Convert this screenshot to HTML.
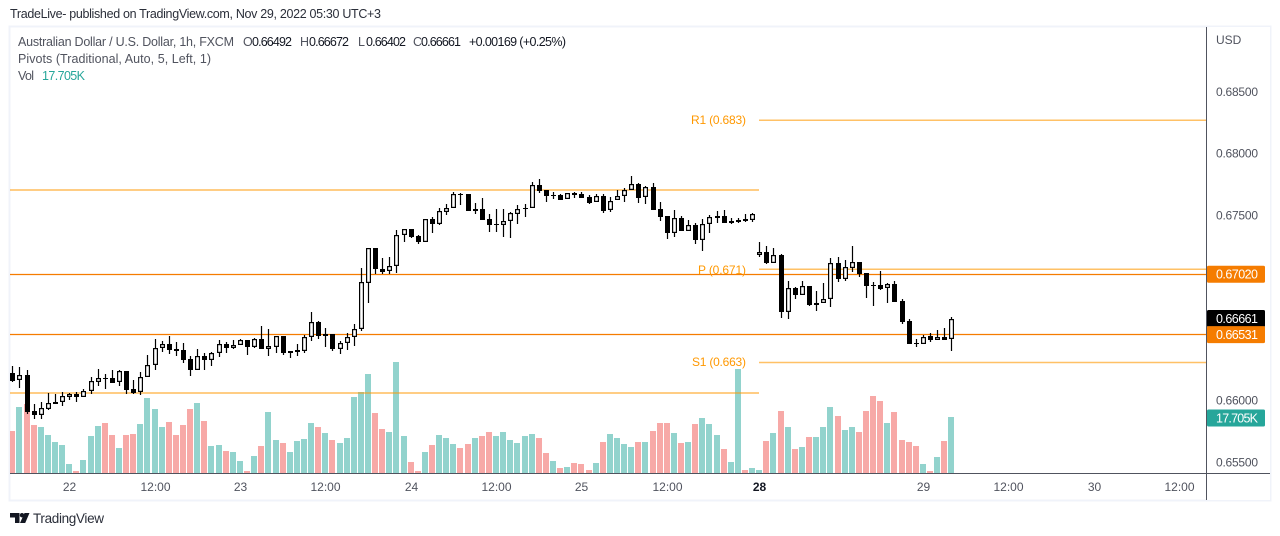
<!DOCTYPE html>
<html lang="en">
<head>
<meta charset="utf-8">
<title>AUD/USD chart</title>
<style>
html,body{margin:0;padding:0;background:#fff;width:1280px;height:536px;overflow:hidden}
svg{display:block;font-family:"Liberation Sans",sans-serif}
</style>
</head>
<body>
<svg id="chart" xmlns="http://www.w3.org/2000/svg" width="1280" height="536" viewBox="0 0 1280 536">
  <defs><clipPath id="plot-clip"><rect x="10" y="27" width="1196" height="446"></rect></clipPath></defs>
  <text x="10" y="18" font-size="12.5" fill="#2a2e39" textLength="371" lengthAdjust="spacing">TradeLive- published on TradingView.com, Nov 29, 2022 05:30 UTC+3</text>
  <rect x="9.5" y="26.5" width="1261" height="474" fill="#fff" stroke="#f0f3fa" stroke-width="2"></rect>
  <g id="volume-layer" clip-path="url(#plot-clip)"></g>
  <g id="pivot-layer"></g>
  <g id="candle-layer" clip-path="url(#plot-clip)"></g>
  <text x="746" y="124" font-size="12" fill="#ff9800" text-anchor="end" textLength="55" lengthAdjust="spacing">R1 (0.683)</text>
  <text x="746" y="274" font-size="12" fill="#ff9800" text-anchor="end" textLength="48" lengthAdjust="spacing">P (0.671)</text>
  <text x="746" y="366" font-size="12" fill="#ff9800" text-anchor="end" textLength="54" lengthAdjust="spacing">S1 (0.663)</text>
  <g font-size="12.5">
    <text x="18" y="46" fill="#50535e" textLength="216" lengthAdjust="spacing">Australian Dollar / U.S. Dollar, 1h, FXCM</text>
    <text x="243" y="46" fill="#50535e">O</text>
    <text x="252" y="46" fill="#131722" textLength="40" lengthAdjust="spacing">0.66492</text>
    <text x="300" y="46" fill="#50535e">H</text>
    <text x="309" y="46" fill="#131722" textLength="40" lengthAdjust="spacing">0.66672</text>
    <text x="358" y="46" fill="#50535e">L</text>
    <text x="366" y="46" fill="#131722" textLength="40" lengthAdjust="spacing">0.66402</text>
    <text x="413" y="46" fill="#50535e">C</text>
    <text x="421" y="46" fill="#131722" textLength="40" lengthAdjust="spacing">0.66661</text>
    <text x="469" y="46" fill="#131722" textLength="97" lengthAdjust="spacing">+0.00169 (+0.25%)</text>
    <text x="18" y="63" fill="#50535e" textLength="193" lengthAdjust="spacing">Pivots (Traditional, Auto, 5, Left, 1)</text>
    <text x="18" y="80" fill="#50535e" textLength="16" lengthAdjust="spacing">Vol</text>
    <text x="42" y="80" fill="#26a69a" textLength="43" lengthAdjust="spacing">17.705K</text>
  </g>
  <rect x="1207" y="27" width="63" height="473" fill="#fff"></rect>
  <line x1="1206.5" y1="27" x2="1206.5" y2="500" stroke="#50535e"></line>
  <line x1="10" y1="473.5" x2="1270" y2="473.5" stroke="#50535e"></line>
  <text x="1216" y="44" font-size="12" fill="#50535e">USD</text>
  <g id="price-ticks"></g>
  <g id="time-ticks"></g>
  <g id="tag-layer"></g>
  <g>
    <g fill="#131722">
      <polygon points="10,513 19.5,513 19.5,523 15,523 15,517.5 10,517.5"></polygon>
      <circle cx="22" cy="515.2" r="2.2"></circle>
      <polygon points="24.5,513 29.5,513 25.2,523 20,523"></polygon>
    </g>
    <text x="33" y="523" font-size="13.5" fill="#2a2e39" textLength="71" lengthAdjust="spacing">TradingView</text>
  </g>
</svg>
<script>
const opens = [0.66220,0.66161,0.66203,0.65912,0.65882,0.65930,0.65971,0.65982,0.66028,0.66047,0.66028,0.66072,0.66149,0.66179,0.66179,0.66144,0.66236,0.66090,0.66063,0.66185,
0.66282,0.66420,0.66455,0.66414,0.66404,0.66333,0.66246,0.66357,0.66327,0.66379,0.66452,0.66425,0.66449,0.66485,0.66433,0.66493,0.66417,0.66433,0.66517,0.66384,
0.66390,0.66400,0.66509,0.66630,0.66522,0.66536,0.66417,0.66460,0.66509,0.66574,0.66951,0.67230,0.67062,0.67043,0.67084,0.67335,0.67384,0.67329,0.67283,0.67465,
0.67429,0.67526,0.67554,0.67670,0.67670,0.67534,0.67546,0.67465,0.67418,0.67421,0.67449,0.67510,0.67546,0.67554,0.67740,0.67700,0.67659,0.67659,0.67627,0.67678,
0.67670,0.67643,0.67602,0.67651,0.67538,0.67619,0.67651,0.67700,0.67751,0.67643,0.67726,0.67546,0.67489,0.67356,0.67473,0.67372,0.67416,0.67299,0.67424,0.67478,
0.67491,0.67437,0.67445,0.67467,0.67457,0.67178,0.67197,0.67113,0.67175,0.66716,0.66906,0.66854,0.66924,0.66773,0.66789,0.66817,0.67108,0.66983,0.67073,0.67116,
0.67027,0.66930,0.66930,0.66906,0.66938,0.66800,0.66638,0.66460,0.66452,0.66517,0.66489,0.66509,0.66492];
const closes = [0.66155,0.66201,0.65906,0.65880,0.65934,0.65974,0.65985,0.66031,0.66047,0.66028,0.66072,0.66152,0.66177,0.66174,0.66141,0.66233,0.66082,0.66058,0.66185,0.66282,
0.66420,0.66452,0.66408,0.66400,0.66325,0.66246,0.66355,0.66325,0.66379,0.66452,0.66425,0.66449,0.66485,0.66433,0.66493,0.66417,0.66436,0.66517,0.66384,0.66398,
0.66404,0.66509,0.66630,0.66519,0.66536,0.66414,0.66460,0.66509,0.66574,0.66954,0.67230,0.67060,0.67040,0.67084,0.67335,0.67384,0.67324,0.67283,0.67465,0.67429,
0.67530,0.67554,0.67667,0.67667,0.67534,0.67546,0.67461,0.67421,0.67424,0.67449,0.67513,0.67546,0.67554,0.67740,0.67696,0.67656,0.67661,0.67623,0.67675,0.67664,
0.67640,0.67599,0.67651,0.67534,0.67615,0.67651,0.67700,0.67748,0.67640,0.67724,0.67542,0.67486,0.67356,0.67473,0.67372,0.67416,0.67299,0.67424,0.67481,0.67491,
0.67437,0.67449,0.67461,0.67453,0.67505,0.67197,0.67113,0.67173,0.66716,0.66906,0.66854,0.66922,0.66771,0.66789,0.66817,0.67108,0.66983,0.67076,0.67116,0.67024,
0.66927,0.66927,0.66903,0.66938,0.66797,0.66635,0.66457,0.66452,0.66514,0.66487,0.66509,0.66489,0.66661];
const highs = [0.66276,0.66268,0.66244,0.65969,0.65985,0.66058,0.66050,0.66063,0.66058,0.66063,0.66088,0.66187,0.66252,0.66212,0.66244,0.66244,0.66236,0.66163,0.66228,0.66363,
0.66495,0.66476,0.66517,0.66471,0.66463,0.66357,0.66412,0.66384,0.66390,0.66485,0.66473,0.66485,0.66495,0.66485,0.66506,0.66598,0.66576,0.66519,0.66517,0.66400,
0.66455,0.66525,0.66714,0.66638,0.66584,0.66536,0.66476,0.66544,0.66617,0.67068,0.67232,0.67230,0.67149,0.67157,0.67378,0.67386,0.67384,0.67337,0.67469,0.67483,
0.67559,0.67589,0.67683,0.67675,0.67670,0.67594,0.67635,0.67508,0.67546,0.67548,0.67526,0.67580,0.67586,0.67764,0.67791,0.67702,0.67688,0.67670,0.67675,0.67686,
0.67683,0.67661,0.67667,0.67667,0.67643,0.67702,0.67716,0.67815,0.67756,0.67734,0.67756,0.67605,0.67489,0.67540,0.67491,0.67459,0.67432,0.67467,0.67499,0.67532,
0.67538,0.67478,0.67475,0.67508,0.67513,0.67281,0.67248,0.67232,0.67184,0.66965,0.66914,0.66963,0.66924,0.66884,0.66946,0.67151,0.67159,0.67135,0.67248,0.67121,
0.67027,0.66954,0.67043,0.66951,0.66963,0.66817,0.66655,0.66493,0.66525,0.66541,0.66566,0.66582,0.66672];
const lows = [0.66147,0.66098,0.65888,0.65847,0.65847,0.65922,0.65971,0.65952,0.66001,0.65985,0.66028,0.66050,0.66114,0.66090,0.66141,0.66114,0.66050,0.66050,0.66041,0.66185,
0.66244,0.66387,0.66374,0.66357,0.66303,0.66195,0.66246,0.66246,0.66279,0.66352,0.66384,0.66417,0.66449,0.66366,0.66425,0.66417,0.66360,0.66384,0.66368,0.66344,
0.66360,0.66384,0.66476,0.66497,0.66433,0.66400,0.66376,0.66406,0.66438,0.66558,0.66789,0.67022,0.67022,0.67022,0.67032,0.67283,0.67313,0.67265,0.67283,0.67356,
0.67418,0.67499,0.67554,0.67580,0.67534,0.67510,0.67461,0.67362,0.67364,0.67324,0.67316,0.67429,0.67486,0.67554,0.67675,0.67607,0.67631,0.67623,0.67627,0.67640,
0.67640,0.67591,0.67602,0.67518,0.67524,0.67619,0.67607,0.67700,0.67599,0.67591,0.67542,0.67453,0.67307,0.67324,0.67372,0.67372,0.67267,0.67210,0.67351,0.67432,
0.67437,0.67427,0.67432,0.67445,0.67445,0.67159,0.67105,0.67113,0.66668,0.66660,0.66819,0.66854,0.66762,0.66722,0.66789,0.66754,0.66959,0.66967,0.67040,0.67000,
0.66827,0.66762,0.66894,0.66787,0.66797,0.66617,0.66457,0.66428,0.66452,0.66473,0.66489,0.66489,0.66402];
const volumes = [13.3,20.9,21.8,15.2,14.6,12.0,9.8,8.9,2.9,0.7,4.2,11.7,14.9,15.8,12.0,8.0,12.0,12.4,15.5,23.7,
20.2,14.6,16.1,12.0,15.2,20.2,22.1,16.4,8.6,8.9,7.0,6.7,3.9,0.7,5.4,8.6,19.3,10.5,9.5,6.7,
10.2,10.8,15.8,14.6,12.7,10.5,9.5,11.1,24.0,25.6,31.2,19.0,13.9,13.0,35.0,11.7,3.6,0.7,6.7,8.9,
12.0,11.1,9.2,8.0,9.2,11.1,11.7,13.0,11.7,13.0,10.5,9.5,11.7,12.4,11.1,6.4,3.9,1.7,2.0,3.2,
2.9,1.0,3.2,9.8,12.4,11.1,9.2,8.3,9.8,9.8,13.3,15.8,15.8,12.7,9.5,9.8,15.5,17.4,15.5,12.0,
7.6,3.6,32.8,1.0,1.7,1.0,10.2,12.7,19.6,14.6,7.6,8.3,11.4,11.4,14.6,20.9,18.0,13.6,14.6,13.0,
19.6,24.3,22.8,15.8,19.3,10.5,9.8,8.6,2.9,0.7,5.1,10.2,17.705];
const priceTickValues = [0.685,0.68,0.675,0.66,0.655];
const timeTickBars = [8,20,32,44,56,68,80,92,105,128,140,152,164];
const timeTickLabels = ["22","12:00","23","12:00","24","12:00","25","12:00","28","29","12:00","30","12:00"];
const fullPivotLevels = [0.67020,0.66531];
const leftPivotLevels = [0.67702,0.66058];
const rightPivotLevels = [0.68267,0.67060,0.66305];
const priceTagValues = [0.67020,0.66661,0.66531];
const priceTagColors = ["#f57c00","#000000","#f57c00"];
const lastVolumeLabel = "17.705K";

const NS = "http://www.w3.org/2000/svg";
const SPLIT_BAR = 105;
function xAxis(i){ return Math.floor(12.8 + 7.114 * i); }
function yPrice(p){ return 91.5 + (0.685 - p) * 12345.7; }
function yVolume(v){ return 473.3 - v * 3.18; }
function mk(parent, tag, attrs){
  const el = document.createElementNS(NS, tag);
  for (const k in attrs) el.setAttribute(k, attrs[k]);
  parent.appendChild(el);
  return el;
}
const volumeLayer = document.getElementById("volume-layer");
const candleLayer = document.getElementById("candle-layer");
const pivotLayer = document.getElementById("pivot-layer");
const priceTicks = document.getElementById("price-ticks");
const timeTicks = document.getElementById("time-ticks");
const tagLayer = document.getElementById("tag-layer");

volumes.forEach(function(v, i){
  const up = closes[i] >= opens[i];
  const top = Math.round(yVolume(v));
  const bar = mk(volumeLayer, "rect", {x: xAxis(i) - 3, y: top, width: 6, height: 473 - top, fill: up ? "#92d3cd" : "#f7a9a7"});
  
  
});

fullPivotLevels.forEach(function(p){
  const y = Math.round(yPrice(p) - 0.5) + 0.5;
  const l = mk(pivotLayer, "line", {x1: 10, x2: 1206, y1: y, y2: y, stroke: "#f57c00", "stroke-width": 1.2});
  
  
});
leftPivotLevels.forEach(function(p){
  const y = yPrice(p);
  const l = mk(pivotLayer, "line", {x1: 10, x2: 759, y1: y, y2: y, stroke: "#ff9800", "stroke-opacity": 0.55, "stroke-width": 1.7});
  
  
});
rightPivotLevels.forEach(function(p){
  const y = yPrice(p);
  const l = mk(pivotLayer, "line", {x1: 759, x2: 1206, y1: y, y2: y, stroke: "#ff9800", "stroke-opacity": 0.6, "stroke-width": 1.5});
  
  
});

opens.forEach(function(o, i){
  const c = closes[i];
  const col = xAxis(i);
  const top = Math.round(yPrice(Math.max(o, c)));
  const bot = Math.max(Math.round(yPrice(Math.min(o, c))), top + 1);
  const hi = Math.round(yPrice(highs[i]));
  const lo = Math.round(yPrice(lows[i]));
  const wick = mk(candleLayer, "rect", {x: col - 0.1, y: hi, width: 1.2, height: Math.max(lo - hi, 1), fill: "#000"});
  
  
  const body = mk(candleLayer, "rect", {x: col - 2, y: top, width: 5, height: bot - top, fill: "#000"});
  
  
  if (c >= o && bot - top >= 3) {
    const inner = mk(candleLayer, "rect", {x: col - 0.8, y: top + 1.2, width: 2.6, height: bot - top - 2.4, fill: "#fff"});
    
    
  }
});

priceTickValues.forEach(function(p){
  const t = mk(priceTicks, "text", {x: 1216, y: yPrice(p) + 4.5, "font-size": 12, fill: "#50535e", textLength: 42, lengthAdjust: "spacing"});
  
  
  t.textContent = p.toFixed(5);
});

timeTickLabels.forEach(function(label, i){
  const major = timeTickBars[i] === SPLIT_BAR;
  const t = mk(timeTicks, "text", {x: xAxis(timeTickBars[i]) + 0.5, y: 491, "font-size": 12, "font-weight": major ? 700 : 400, fill: major ? "#131722" : "#50535e", "text-anchor": "middle"});
  
  
  t.textContent = label;
});

function tag(y, color, label){
  const r = mk(tagLayer, "rect", {x: 1207, y: y - 8.5, width: 58, height: 17, rx: 1.5, fill: color});
  
  
  const t = mk(tagLayer, "text", {x: 1216, y: y + 4.5, "font-size": 12.5, fill: "#fff", textLength: 42, lengthAdjust: "spacing"});
  
  
  t.textContent = label;
}
priceTagValues.forEach(function(p, i){
  tag(yPrice(p), priceTagColors[i], p.toFixed(5));
});
tag(yVolume(volumes[volumes.length - 1]) + 1, "#26a69a", lastVolumeLabel);
</script>
</body>
</html>
